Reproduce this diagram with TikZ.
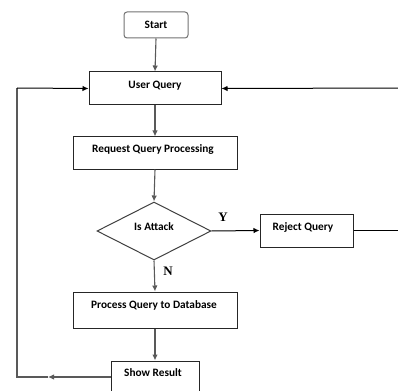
\documentclass[tikz,border=0pt]{standalone}
\usepackage{fontspec}
\setmainfont{Carlito}
\newfontfamily\serifY{Liberation Serif}
\usetikzlibrary{arrows.meta,shapes.geometric}
\begin{document}
\begin{tikzpicture}[x=1pt,y=-1pt,
  box/.style={draw=black!85,line width=1pt,rectangle,inner sep=0pt},
  lbl/.style={font=\bfseries\fontsize{11.3}{13}\selectfont,inner sep=0pt,anchor=base},
  arr/.style={-{Latex[length=6pt,width=5.5pt]}},
  gline/.style={draw=black!65,line width=1.1pt},
  bline/.style={draw=black,line width=1pt},
  yn/.style={font=\serifY\bfseries\fontsize{13}{15}\selectfont,inner sep=0pt}]
\useasboundingbox (0,0) rectangle (398,390);
\clip (0,0) rectangle (398,390);
\fill[white] (0,0) rectangle (398,390);
% nodes
\node[box,draw=black!55,rounded corners=3pt,minimum width=64,minimum height=26] (st) at (156,25) {};
\node[lbl] (stt) at (156,29) {Start};
\node[box,minimum width=132,minimum height=33] (uq) at (155,88.5) {};
\node[lbl] (uqt) at (155,89) {User Query};
\node[box,minimum width=164,minimum height=32] (rqp) at (155,153) {};
\node[lbl] (rqpt) at (153,153) {Request Query Processing};
\node[draw=black!75,line width=1pt,diamond,aspect=1.97,minimum width=114,minimum height=58,inner sep=0pt] (ia) at (154,231) {};
\node[lbl] (iat) at (154,230) {Is Attack};
\node[box,minimum width=93,minimum height=33] (rq) at (306.5,230.5) {};
\node[lbl] (rqt) at (303,230) {Reject Query};
\node[box,minimum width=164,minimum height=36] (pqd) at (155,310) {};
\node[lbl] (pqdt) at (154,308) {Process Query to Database};
\node[box,minimum width=88,minimum height=34] (sr) at (155,378) {};
\node[lbl] (srt) at (153,376) {Show Result};
\node[yn] (y) at (223,217) {Y};
\node[yn] (n) at (168,271) {N};
% coordinates
\coordinate (rr) at (405,230.5);
\coordinate (ru) at (405,88);
\coordinate (lb) at (17,377);
\coordinate (lt) at (17,88);
\coordinate (am) at (48,377);
% connectors
\draw[gline,arr] (st.south) -- (uq.north);
\draw[gline,arr] (uq.south) -- (rqp.north);
\draw[gline,arr] (rqp.south) -- (ia.north);
\draw[gline,arr] (ia.south) -- (pqd.north);
\draw[gline,arr] (pqd.south) -- (sr.north);
\draw[bline,arr] (ia.east) -- (rq.west);
\draw[bline] (rq.east) -- (rr) -- (ru);
\draw[bline,arr] (ru) -- (uq.east);
\draw[gline,arr] (sr.west |- lb) -- (am);
\draw[gline] (am) -- (lb) -- (lt);
\draw[bline,arr] (lt) -- (uq.west);
\end{tikzpicture}
\end{document}
